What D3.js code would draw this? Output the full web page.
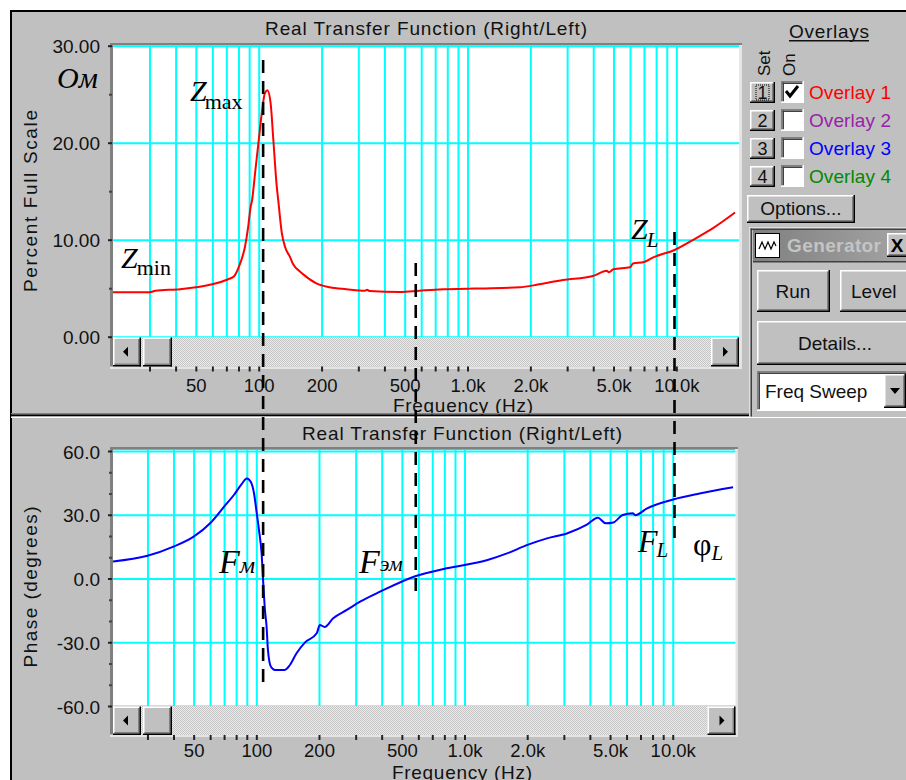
<!DOCTYPE html>
<html><head><meta charset="utf-8">
<script src="https://cdn.jsdelivr.net/npm/d3@7"></script>
<style>
body{margin:0;background:#fff;}
svg{display:block;}
text{font-family:"Liberation Sans",Arial,sans-serif;}
.serif{font-family:"Liberation Serif","Times New Roman",serif;}
</style>
</head><body>
<svg id="c" width="906" height="780"></svg>
<script>
// ---------------- DATA ----------------
const impFreq  = [20, 30, 32, 42, 50, 60, 71, 76, 81, 86, 89, 91.5, 93, 96, 99.6, 103.4, 107, 110, 114, 117.5, 122, 124, 129, 134, 141, 146, 158, 164, 189, 219, 263, 323, 330, 340, 474, 590, 700, 795, 1000, 1150, 1780, 2200, 2860, 3990, 4640, 4750, 5000, 6000, 6200, 7000, 7800, 9800, 12500, 15000, 19100];
const impValue = [4.58, 4.58, 4.74, 4.9, 5.1, 5.4, 5.9, 6.2, 7.4, 9.3, 11.3, 13.4, 14.1, 16.8, 19.9, 23.0, 25.1, 25.4, 24.1, 20.3, 15.5, 14.1, 10.7, 9.2, 8.25, 7.5, 6.7, 6.4, 5.5, 5.1, 4.9, 4.74, 4.85, 4.7, 4.6, 4.74, 4.85, 4.89, 4.95, 4.98, 5.09, 5.4, 5.84, 6.26, 6.8, 6.65, 6.95, 7.15, 7.55, 7.7, 8.2, 8.94, 10.2, 11.2, 12.8];

const phaseFreq  = [20, 30, 40, 50, 60, 70, 78, 85, 90, 94, 97.5, 100, 103, 106, 108, 110, 112, 113.7, 117.5, 123, 137, 145, 156, 171, 195, 202, 213, 234, 272, 315, 393, 584, 821, 1290, 1600, 1990, 2490, 3100, 3850, 4370, 4760, 5190, 5750, 6430, 6600, 7530, 10050, 13460, 19500];
const phaseValue = [7.9, 10.7, 15.0, 19.7, 26.0, 33.8, 39.3, 44.4, 47.1, 45.5, 40.0, 32.2, 22.8, 11.8, -2.3, -14.8, -22.6, -33.6, -41.5, -43.0, -43.0, -40.7, -35.2, -30.2, -25.8, -21.9, -22.8, -18.7, -14.8, -10.9, -6.2, 1.2, 4.8, 8.7, 11.8, 15.7, 18.9, 21.2, 25.2, 28.6, 26.0, 26.4, 29.9, 30.7, 29.8, 33.0, 37.2, 40.0, 42.9];

const gridFreqs = [30,40,50,60,70,80,90,100,200,300,400,500,600,700,800,900,1000,2000,3000,4000,5000,6000,7000,8000,9000,10000];
const freqLabelValues = [50,100,200,500,1000,2000,5000,10000];
const freqLabelTexts  = ["50","100","200","500","1.0k","2.0k","5.0k","10.0k"];

const impTicks = [0,10,20,30];
const impTickLabels = ["0.00","10.00","20.00","30.00"];
const impMinorTicks = [5,15,25];
const phaseTicks = [-60,-30,0,30,60];
const phaseTickLabels = ["-60.0","-30.0","0.0","30.0","60.0"];
const phaseMinorTicks = [-50,-40,-20,-10,10,20,40,50];

const overlayNames  = ["Overlay 1","Overlay 2","Overlay 3","Overlay 4"];
const overlayColors = ["#ff0000","#9922aa","#0000ff","#008a00"];
const overlayOn     = [true,false,false,false];

const markerFreqs = [105, 565, 9800];

// ---------------- SETUP ----------------
const svg = d3.select("#c");
const defs = svg.append("defs");
const pat = defs.append("pattern").attr("id","dith").attr("width",2).attr("height",2).attr("patternUnits","userSpaceOnUse");
pat.append("rect").attr("width",2).attr("height",2).attr("fill","#ececec");
pat.append("rect").attr("width",1).attr("height",1).attr("fill","#c4c4c4");
pat.append("rect").attr("x",1).attr("y",1).attr("width",1).attr("height",1).attr("fill","#c4c4c4");
const grad = defs.append("linearGradient").attr("id","tbar");
grad.append("stop").attr("offset","0").attr("stop-color","#808080");
grad.append("stop").attr("offset","1").attr("stop-color","#a4a4a4");

function R(g,x,y,w,h,fill){return g.append("rect").attr("x",x).attr("y",y).attr("width",w).attr("height",h).attr("fill",fill);}
function T(g,x,y,size,str,color){return g.append("text").attr("x",x).attr("y",y).attr("font-size",size).style("fill",color||"#111").text(str);}
function raised(g,x,y,w,h){
  R(g,x,y,w,h,"#c0c0c0");
  R(g,x,y,w,1.5,"#ffffff"); R(g,x,y,1.5,h,"#ffffff");
  R(g,x+1.5,y+h-3,w-3,1.5,"#808080"); R(g,x+w-3,y+1.5,1.5,h-3,"#808080");
  R(g,x,y+h-1.5,w,1.5,"#000"); R(g,x+w-1.5,y,1.5,h,"#000");
}
function sunken(g,x,y,w,h,fill){
  R(g,x,y,w,h,fill||"#fff");
  R(g,x,y,w,1.5,"#808080"); R(g,x,y,1.5,h,"#808080");
  R(g,x+1.5,y+1.5,w-3,1.5,"#404040"); R(g,x+1.5,y+1.5,1.5,h-3,"#404040");
  R(g,x,y+h-1.5,w,1.5,"#fff"); R(g,x+w-1.5,y,1.5,h,"#fff");
}

// background
R(svg,0,0,906,780,"#fff");
R(svg,11,11,895,769,"#c0c0c0");
R(svg,10,10,896,2,"#000");
R(svg,10,10,2,770,"#000");

// ---------------- PANELS ----------------
const panels = [
  {x: d3.scaleLog().domain([20,20000]).range([112.75,739.2]),
   y: d3.scaleLinear().domain([0,30]).range([336.7,45.7]),
   box:{x:110,y:43,w:632,h:326}, plot:{x:113,y:45.5,w:626.2,h:291.5}, sb:{y:337,h:29.5,right:711},
   ticks:impTicks, labels:impTickLabels, minor:impMinorTicks, axisY:366.5, pad:7,
   title:{x:265,y:35,len:322}, ytitle:{text:"Percent Full Scale",cy:201,len:182},
   xtitle:{x:393,y:412,len:140},
   fx:impFreq, fv:impValue, color:"#ff0000"},
  {x: d3.scaleLog().domain([20,20000]).range([110.8,735.4]),
   y: d3.scaleLinear().domain([-60,60]).range([706,451]),
   box:{x:110,y:447,w:628,h:290}, plot:{x:113,y:450,w:622.5,h:256}, sb:{y:706,h:29,right:707.5},
   ticks:phaseTicks, labels:phaseTickLabels, minor:phaseMinorTicks, axisY:735, pad:4,
   title:{x:302,y:440,len:320}, ytitle:{text:"Phase (degrees)",cy:587,len:161},
   xtitle:{x:392,y:779,len:140},
   fx:phaseFreq, fv:phaseValue, color:"#0000ff"}
];

panels.forEach((p,i)=>{
  const g = svg.append("g");
  // widget frame
  R(g,p.box.x,p.box.y,p.box.w,p.box.h,"#c0c0c0");
  R(g,p.box.x,p.box.y,p.box.w,2.5,"#808080");
  R(g,p.box.x,p.box.y,3,p.box.h,"#808080");
  R(g,p.box.x+p.box.w-3,p.box.y+2,3,p.box.h-2,"#e4e4e4");
  R(g,p.box.x,p.box.y+p.box.h-2.5,p.box.w,2.5,"#e4e4e4");
  R(g,p.plot.x,p.plot.y,p.plot.w,p.plot.h,"#fff");

  // grid via axes
  const gx = g.append("g").attr("transform",`translate(0,${p.plot.y+p.plot.h})`)
    .call(d3.axisBottom(p.x).tickValues(gridFreqs).tickSize(-(p.plot.h)).tickFormat(""));
  gx.select(".domain").remove();
  gx.selectAll("line").attr("stroke","#00ffff").attr("stroke-width",2);
  const gy = g.append("g").attr("transform",`translate(${p.plot.x},0)`)
    .call(d3.axisLeft(p.y).tickValues(p.ticks).tickSize(-(p.plot.w)).tickFormat(""));
  gy.select(".domain").remove();
  gy.selectAll("line").attr("stroke","#00ffff").attr("stroke-width",2);

  // curve
  const cid = "clip"+i;
  defs.append("clipPath").attr("id",cid).append("rect")
    .attr("x",p.plot.x).attr("y",p.plot.y).attr("width",p.plot.w).attr("height",p.plot.h);
  const pts = p.fx.map((f,k)=>[f,p.fv[k]]);
  g.append("path").attr("clip-path",`url(#${cid})`)
    .attr("d", d3.line().curve(d3.curveMonotoneX).x(d=>p.x(d[0])).y(d=>p.y(d[1]))(pts))
    .attr("fill","none").attr("stroke",p.color).attr("stroke-width",2);

  // scrollbar
  R(g,p.plot.x,p.sb.y,p.plot.w,p.sb.h,"url(#dith)");
  raised(g,p.plot.x,p.sb.y+0.5,28,p.sb.h-0.5);
  raised(g,p.plot.x+30,p.sb.y+0.5,29,p.sb.h-0.5);
  raised(g,p.sb.right,p.sb.y+0.5,28,p.sb.h-0.5);
  const cyL = p.sb.y + p.sb.h/2;
  g.append("path").attr("d",`M${p.plot.x+15},${cyL-5}L${p.plot.x+15},${cyL+5}L${p.plot.x+10},${cyL}Z`).attr("fill","#000");
  g.append("path").attr("d",`M${p.sb.right+12},${cyL-5}L${p.sb.right+12},${cyL+5}L${p.sb.right+17},${cyL}Z`).attr("fill","#000");

  // bottom ticks + labels
  const labelMap = new Map(freqLabelValues.map((v,k)=>[v,freqLabelTexts[k]]));
  const ax = g.append("g").attr("transform",`translate(0,${p.axisY})`)
    .call(d3.axisBottom(p.x).tickValues(gridFreqs).tickSize(5).tickPadding(p.pad).tickFormat(d=>labelMap.get(d)||""));
  ax.select(".domain").remove();
  ax.selectAll("line").attr("stroke","#222").attr("stroke-width",2);
  ax.selectAll("text").attr("font-size",18.5).attr("font-family","Liberation Sans, Arial, sans-serif").style("fill","#111");

  // left ticks + labels
  const ay = g.append("g").attr("transform",`translate(${p.plot.x-1},0)`)
    .call(d3.axisLeft(p.y).tickValues(p.ticks).tickSize(4).tickPadding(8).tickFormat((d,k)=>p.labels[k]));
  ay.select(".domain").remove();
  ay.selectAll("line").attr("stroke","#222").attr("stroke-width",2);
  ay.selectAll("text").attr("font-size",19).attr("dy","0.38em").attr("font-family","Liberation Sans, Arial, sans-serif").style("fill","#111");
  const am = g.append("g").attr("transform",`translate(${p.plot.x-1},0)`)
    .call(d3.axisLeft(p.y).tickValues(p.minor).tickSize(3).tickFormat(""));
  am.select(".domain").remove();
  am.selectAll("line").attr("stroke","#444").attr("stroke-width",2);

  // titles
  T(g,p.title.x,p.title.y,19,"Real Transfer Function (Right/Left)")
    .attr("textLength",p.title.len).attr("lengthAdjust","spacing");
  g.append("text").attr("transform",`translate(37,${p.ytitle.cy}) rotate(-90)`).attr("text-anchor","middle")
    .attr("font-size",19).style("fill","#111").attr("textLength",p.ytitle.len).attr("lengthAdjust","spacing").text(p.ytitle.text);
  T(g,p.xtitle.x,p.xtitle.y,19,"Frequency (Hz)").attr("textLength",p.xtitle.len).attr("lengthAdjust","spacing");
});

// separator between panels
R(svg,11,413,895,1.5,"#808080");
R(svg,11,414.5,895,2,"#000");
R(svg,11,416.5,895,1.5,"#fff");

// ---------------- RIGHT PANEL ----------------
const rp = svg.append("g");
T(rp,789,38,19,"Overlays").attr("textLength",80).attr("lengthAdjust","spacing");
R(rp,789,40,80,1.5,"#111");
rp.append("text").attr("transform","translate(770,76) rotate(-90)").attr("font-size",17).style("fill","#111").text("Set");
rp.append("text").attr("transform","translate(795,76) rotate(-90)").attr("font-size",17).style("fill","#111").text("On");
overlayNames.forEach((name,k)=>{
  const y = 82 + k*28;
  raised(rp,750,y,25,21);
  T(rp,762.5,y+17,18,String(k+1)).attr("text-anchor","middle");
  if(k===0){
    rp.append("rect").attr("x",756).attr("y",y+3).attr("width",13).attr("height",15).attr("fill","none")
      .attr("stroke","#000").attr("stroke-width",1).attr("stroke-dasharray","1,1");
  }
  sunken(rp,781,y-1,23,22,"#fff");
  if(overlayOn[k]){
    rp.append("path").attr("d",`M786,${y+9} L790,${y+14} L798,${y+4}`).attr("fill","none").attr("stroke","#000").attr("stroke-width",3);
  }
  T(rp,809,y+17,19,name,overlayColors[k]).attr("textLength",82).attr("lengthAdjust","spacing");
});
raised(rp,747,195,108,28);
T(rp,801,215,19,"Options...").attr("text-anchor","middle");

// Generator window
R(rp,749,227,160,190,"#c0c0c0");
R(rp,749,227,160,1.5,"#dfdfdf");
R(rp,749,227,1.5,190,"#dfdfdf");
R(rp,750.5,228.5,1.5,188,"#404040");
R(rp,750.5,228.5,158,1.5,"#404040");
R(rp,753,230,155,31,"url(#tbar)");
R(rp,753,261,155,1.5,"#404040");
R(rp,755,233,25,25,"#fff");
rp.append("rect").attr("x",755.5).attr("y",233.5).attr("width",24).attr("height",24).attr("fill","none").attr("stroke","#000").attr("stroke-width",1);
rp.append("path").attr("d","M759,249 L762,242 L765,249 L768,242 L771,249 L774,242 L776,246").attr("fill","none").attr("stroke","#000").attr("stroke-width",1.2);
T(rp,787,252,19,"Generator","#c4c4c4").attr("font-weight","bold").attr("textLength",94).attr("lengthAdjust","spacing");
raised(rp,887,233,24,24);
T(rp,897,252,19,"X","#000").attr("text-anchor","middle").attr("font-weight","bold");

raised(rp,757,270,73,42);
T(rp,793,298,19,"Run").attr("text-anchor","middle");
raised(rp,840,270,72,42);
T(rp,851,298,19,"Level");
raised(rp,757,321,155,44);
T(rp,835,350,19,"Details...").attr("text-anchor","middle");
sunken(rp,757,371,152,40,"#fff");
T(rp,765,398,19,"Freq Sweep");
raised(rp,884,374,22,34);
rp.append("path").attr("d","M890,388 L900,388 L895,394 Z").attr("fill","#000");

// ---------------- ANNOTATIONS ----------------
const xm = panels[0].x;
const markerSpans = [[60,688],[263,597],[232,538]];
svg.append("g").selectAll("line").data(markerFreqs).join("line")
  .attr("x1",d=>xm(d)).attr("x2",d=>xm(d))
  .attr("y1",(d,k)=>markerSpans[k][0]).attr("y2",(d,k)=>markerSpans[k][1])
  .attr("stroke","#000").attr("stroke-width",2.6).attr("stroke-dasharray","13,8");

const an = svg.append("g");
function label(x,y,main,size,italic,sub,subSize,subItalic,dx,dy){
  const t = an.append("text").attr("class","serif").attr("x",x).attr("y",y).style("fill","#000");
  t.append("tspan").attr("font-size",size).attr("font-style",italic?"italic":"normal").text(main);
  if(sub){
    t.append("tspan").attr("dx",dx||0).attr("dy",dy||0).attr("font-size",subSize).attr("font-style",subItalic?"italic":"normal").text(sub);
  }
}
label(57,88,"Ом",30,true);
label(190,101,"Z",30,true,"max",22,false,-2,8);
label(121,268,"Z",30,true,"min",22,false,-1,7);
label(631,239,"Z",30,true,"L",21,true,-1,8);
label(219,573,"F",34,true,"м",24,true,0,0);
label(359,573,"F",34,true,"эм",22,true,0,-2);
label(638,552,"F",32,true,"L",21,true,-1,5);
label(693,555,"φ",32,false,"L",21,true,0,5);
</script>
</body></html>
